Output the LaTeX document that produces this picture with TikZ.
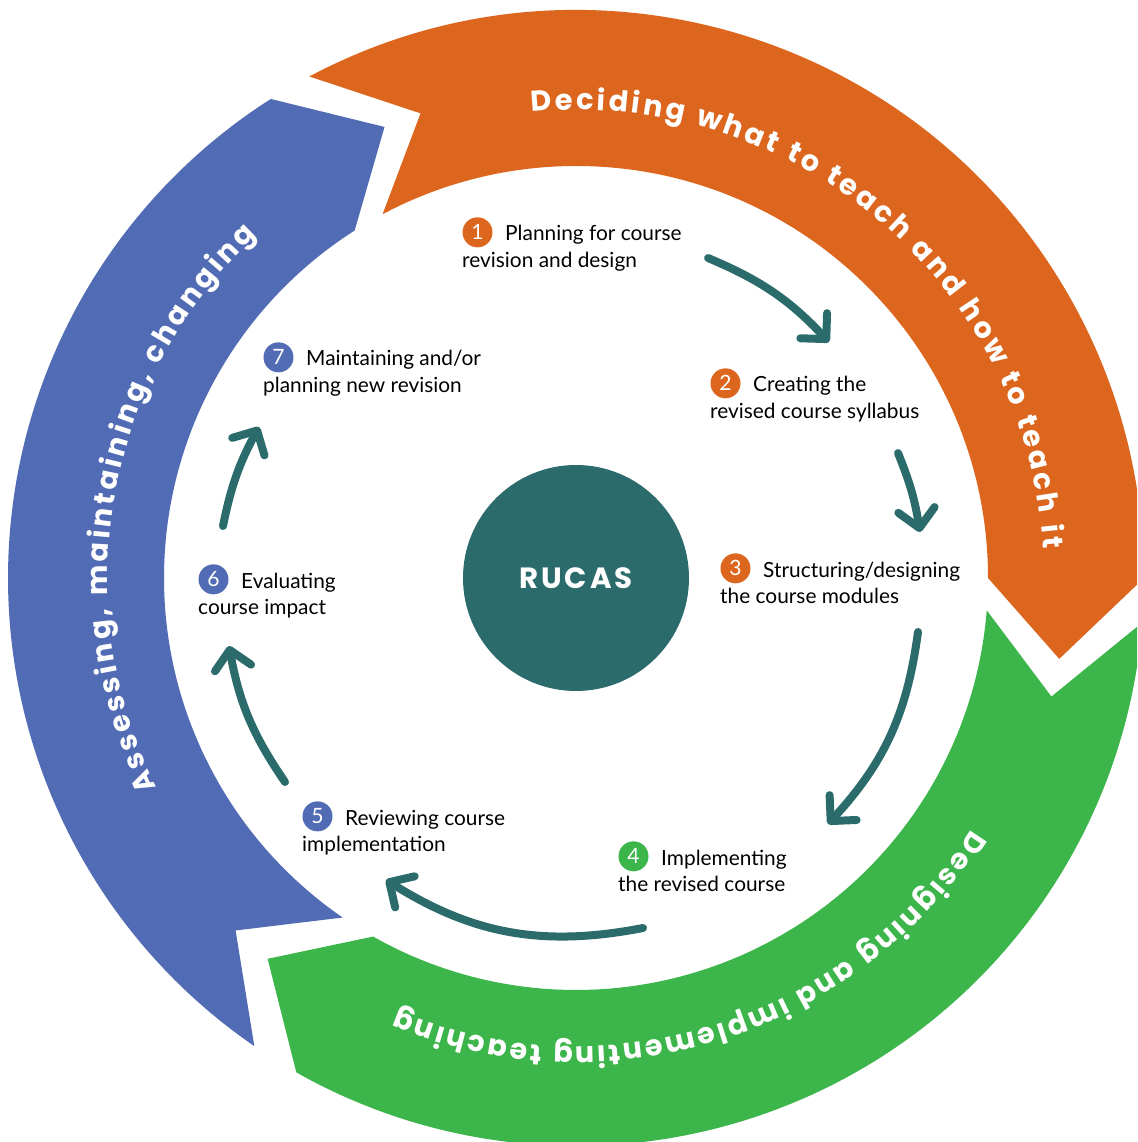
\documentclass[tikz,border=0pt]{standalone}
\usepackage{fontspec}
\setmainfont{Lato}
\newfontfamily\arcfont{Poppins}
\newfontfamily\hubfont{Poppins}[LetterSpace=10]
\usetikzlibrary{arrows.meta,decorations.text}

\definecolor{rucasorange}{HTML}{DD661F}
\definecolor{rucasgreen}{HTML}{3CB54B}
\definecolor{rucasblue}{HTML}{516CB4}
\definecolor{rucasteal}{HTML}{2C6B6B}

\tikzset{
  num/.style={circle,fill=#1,text=white,minimum size=0.9cm,inner sep=0pt,font=\fontsize{18}{18}\selectfont},
  steptext/.style={anchor=base west,inner sep=0pt,font=\fontsize{17.8}{22.2}\selectfont},
  flow/.style={rucasteal,line width=0.24cm,line cap=round,-{Straight Barb[length=0.55cm,width=1.1cm,round]}},
  arctext/.style={decorate,decoration={text along path,text align=fit to path,
    text={|\arcfont\bfseries\fontsize{24.5}{24.5}\selectfont\color{white}|#1}}}
}

\begin{document}
\begin{tikzpicture}
\clip (-17.28,-16.92) rectangle (16.83,17.34);
\fill[white] (-17.28,-16.92) rectangle (16.83,17.34);

% the three ring arrows
\fill[rucasorange] (118:17.04) arc[start angle=118,end angle=0,radius=17.04] -- (-9.5:14.7)
  -- (0:12.36) arc[start angle=0,end angle=118,radius=12.36] -- (108.5:14.7) -- cycle;
\fill[rucasgreen] (-4.5:17.04) arc[start angle=-4.5,end angle=-119.5,radius=17.04] -- (-129:14.7)
  -- (-119.5:12.36) arc[start angle=-119.5,end angle=-4.5,radius=12.36] -- (-14:14.7) -- cycle;
\fill[rucasblue] (235.5:17.04) arc[start angle=235.5,end angle=122.5,radius=17.04] -- (113:14.7)
  -- (122.5:12.36) arc[start angle=122.5,end angle=235.5,radius=12.36] -- (226:14.7) -- cycle;

\path[arctext={Deciding what to teach and how to teach it}] (95.4:14.05) arc[start angle=95.4,end angle=3.6,radius=14.05];
\path[arctext={Designing and implementing teaching}] (-32.5:14.05) arc[start angle=-32.5,end angle=-112.4,radius=14.05];
\path[arctext={Assessing, maintaining, changing}] (206.5:14.05) arc[start angle=206.5,end angle=133,radius=14.05];

% hub
\node[circle,fill=rucasteal,minimum size=6.78cm,text=white,font=\hubfont\bfseries\fontsize{25}{25}\selectfont] (hub) at (0,0) {RUCAS};

% steps
\node[steptext] (t1) at (-3.42,10.11) {\begin{tabular}[t]{@{}l@{}}\hspace{1.29cm}Planning for course\\revision and design\end{tabular}};
\node[num=rucasorange] (n1) at ([xshift=0.465cm,yshift=0.26cm]t1.base west) {1};
\node[steptext] (t2) at (4.02,5.58) {\begin{tabular}[t]{@{}l@{}}\hspace{1.29cm}Creating the\\revised course syllabus\end{tabular}};
\node[num=rucasorange] (n2) at ([xshift=0.465cm,yshift=0.26cm]t2.base west) {2};
\node[steptext] (t3) at (4.32,0.03) {\begin{tabular}[t]{@{}l@{}}\hspace{1.29cm}Structuring/designing\\the course modules\end{tabular}};
\node[num=rucasorange] (n3) at ([xshift=0.465cm,yshift=0.26cm]t3.base west) {3};
\node[steptext] (t4) at (1.26,-8.61) {\begin{tabular}[t]{@{}l@{}}\hspace{1.29cm}Implementing\\the revised course\end{tabular}};
\node[num=rucasgreen] (n4) at ([xshift=0.465cm,yshift=0.26cm]t4.base west) {4};
\node[steptext] (t5) at (-8.22,-7.41) {\begin{tabular}[t]{@{}l@{}}\hspace{1.29cm}Reviewing course\\implementation\end{tabular}};
\node[num=rucasblue] (n5) at ([xshift=0.465cm,yshift=0.26cm]t5.base west) {5};
\node[steptext] (t6) at (-11.34,-0.30) {\begin{tabular}[t]{@{}l@{}}\hspace{1.29cm}Evaluating\\course impact\end{tabular}};
\node[num=rucasblue] (n6) at ([xshift=0.465cm,yshift=0.26cm]t6.base west) {6};
\node[steptext] (t7) at (-9.39,6.36) {\begin{tabular}[t]{@{}l@{}}\hspace{1.29cm}Maintaining and/or\\planning new revision\end{tabular}};
\node[num=rucasblue] (n7) at ([xshift=0.465cm,yshift=0.26cm]t7.base west) {7};

% arrows between the steps
\coordinate (s12) at (3.96,9.6);    \coordinate (e12) at (7.59,7.08);
\coordinate (s23) at (9.66,3.75);   \coordinate (e23) at (10.32,1.38);
\coordinate (s34) at (10.26,-1.62); \coordinate (e34) at (7.56,-7.38);
\coordinate (s45) at (2.01,-10.5);  \coordinate (e45) at (-5.7,-9.06);
\coordinate (s56) at (-8.73,-6.12); \coordinate (e56) at (-10.41,-2.04);
\coordinate (s67) at (-10.59,1.56); \coordinate (e67) at (-9.51,4.53);
\draw[flow] (s12) to[bend left=12] (e12);
\draw[flow] (s23) to[bend left=6.5] (e23);
\draw[flow] (s34) to[bend left=17.5] (e34);
\draw[flow] (s45) to[bend left=21.5] (e45);
\draw[flow] (s56) to[bend left=12] (e56);
\draw[flow] (s67) to[bend left=8.5] (e67);
\end{tikzpicture}
\end{document}
